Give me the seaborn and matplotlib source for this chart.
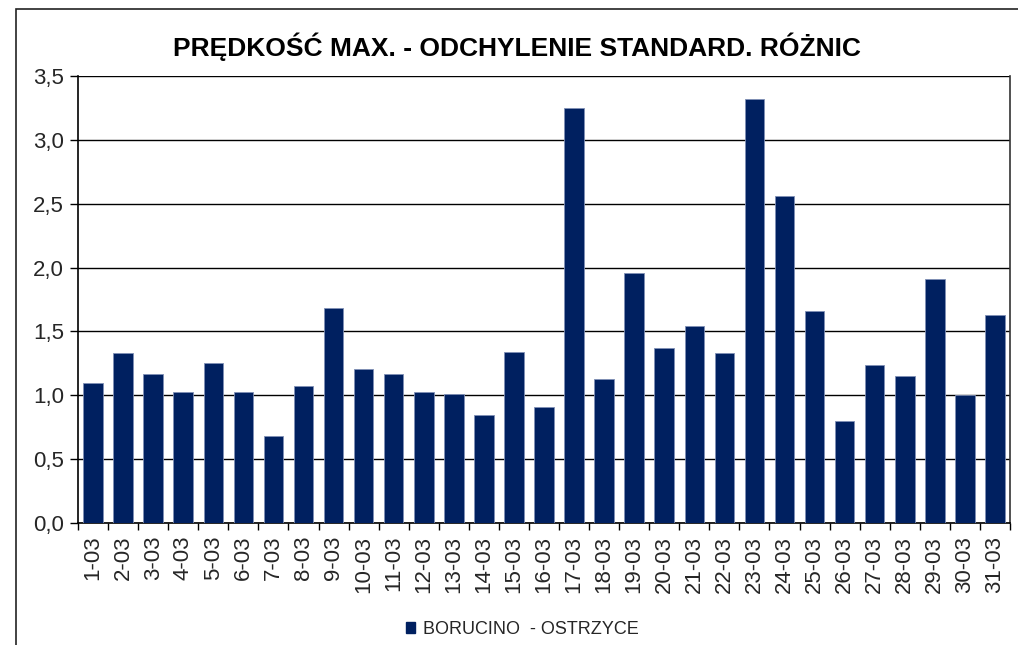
import matplotlib
matplotlib.use("Agg")
import matplotlib.pyplot as plt
import matplotlib.patches as mpatches
import matplotlib.ticker as mticker
import seaborn as sns
import pandas as pd

# Daily standard deviation of max-speed differences, March
days = [f"{d}-03" for d in range(1, 32)]
values = [1.10, 1.33, 1.17, 1.03, 1.25, 1.03, 0.68, 1.07, 1.68, 1.21,
          1.17, 1.03, 1.01, 0.85, 1.34, 0.91, 3.25, 1.13, 1.96, 1.37,
          1.54, 1.33, 3.32, 2.56, 1.66, 0.80, 1.24, 1.15, 1.91, 1.00,
          1.63]
series_name = "BORUCINO  - OSTRZYCE"
title = "PRĘDKOŚĆ MAX. - ODCHYLENIE STANDARD. RÓŻNIC"
bar_color = "#002060"

df = pd.DataFrame({"day": days, "value": values})

sns.set_theme(style="white")
plt.rcParams["font.family"] = ["Liberation Sans", "DejaVu Sans"]

fig = plt.figure(figsize=(10.18, 6.45), dpi=100)
ax = fig.add_axes([78 / 1018, 1 - 523.3 / 645, 932 / 1018, 447.6 / 645])

sns.barplot(data=df, x="day", y="value", color=bar_color, width=0.65,
            edgecolor="#7f8fb5", linewidth=0.6, saturation=1, ax=ax, zorder=3)

ax.set_xlim(-0.5, len(days) - 0.5)
ax.set_ylim(0, 3.5)
ax.yaxis.set_major_locator(mticker.MultipleLocator(0.5))
ax.yaxis.set_major_formatter(mticker.FuncFormatter(lambda v, p: f"{v:.1f}".replace(".", ",")))
ax.yaxis.grid(True, color="black", linewidth=1.0, zorder=0)
ax.set_axisbelow(True)

# ticks between categories on the x axis
ax.set_xticks(range(len(days)))
ax.set_xticklabels(days, rotation=90, fontsize=16)
ax.xaxis.set_minor_locator(mticker.FixedLocator([i - 0.5 for i in range(len(days) + 1)]))
ax.tick_params(axis="x", which="major", length=0, pad=9)
ax.tick_params(axis="x", which="minor", length=5, width=1, color="black", direction="out", bottom=True)
ax.tick_params(axis="y", labelsize=16, length=6, width=1, color="black", direction="out", left=True, pad=4)

for side in ["left", "bottom", "right"]:
    ax.spines[side].set_visible(True)
    ax.spines[side].set_color("black")
    ax.spines[side].set_linewidth(1.2)
ax.spines["top"].set_visible(False)
ax.spines["right"].set_color("#333333")

ax.set_xlabel("")
ax.set_ylabel("")

fig.text(517 / 1018, 1 - 47 / 645, title, ha="center", va="center",
         fontsize=19, fontweight="bold", color="black")

handle = mpatches.Patch(color=bar_color, label=series_name)
fig.legend(handles=[handle], loc="center", bbox_to_anchor=(522 / 1018, 1 - 629 / 645),
           frameon=False, fontsize=13, handlelength=0.55, handleheight=0.55,
           handletextpad=0.4)

# outer chart frame
frame = mpatches.Rectangle((16 / 1018, -0.05), 1.2, 1 - 8.5 / 645 + 0.05,
                           transform=fig.transFigure, fill=False,
                           edgecolor="#222222", linewidth=1.2, zorder=0)
fig.patches.append(frame)

fig.savefig("out.png", dpi=100)
